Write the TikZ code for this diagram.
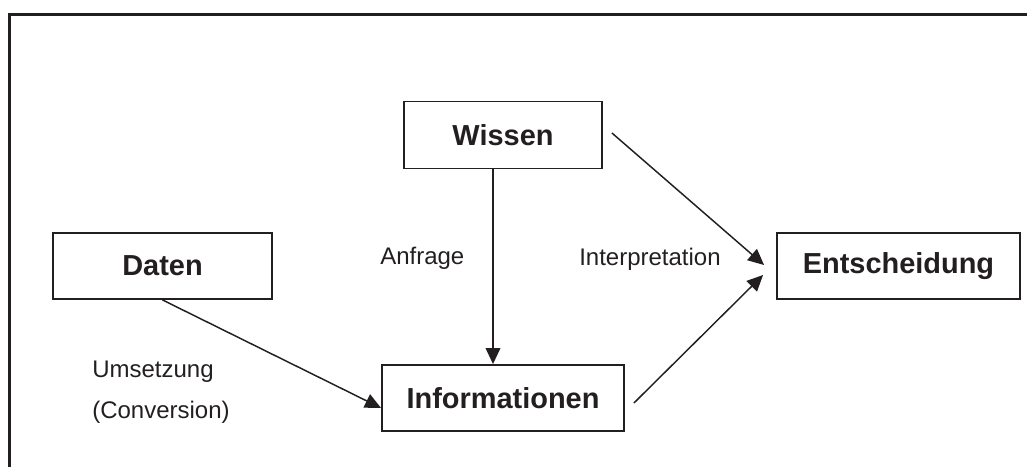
\documentclass[tikz,border=0pt]{standalone}
\usepackage{fontspec}
\setmainfont{Liberation Sans}
\usetikzlibrary{arrows.meta,calc}
\definecolor{ink}{HTML}{231F20}
\begin{document}
\begin{tikzpicture}[x=0.75pt,y=-0.75pt,
  box/.style={draw=ink,line width=1.4pt,fill=white,inner sep=0pt,
    font=\fontsize{21.7}{26}\selectfont\bfseries,text=ink},
  lbl/.style={anchor=base west,inner sep=0pt,font=\fontsize{18}{22}\selectfont,text=ink},
  arr/.style={draw=ink,line width=1.1pt,-{Triangle[length=12pt,width=11pt]}}]
\useasboundingbox (0,0) rectangle (1027,467);
% open frame: top and left edges only
\draw[ink,line width=2pt] (9.5,467) -- (9.5,14.3) -- (1027,14.3);
% boxes
\node[box,minimum width=198*0.75pt,minimum height=67*0.75pt] (W) at (503,135) {Wissen};
\node[box,minimum width=219*0.75pt,minimum height=66*0.75pt] (D) at (162.5,266) {Daten};
\node[box,minimum width=242*0.75pt,minimum height=66*0.75pt] (I) at (503,398) {Informationen};
\node[box,minimum width=243*0.75pt,minimum height=66*0.75pt] (E) at (898.5,266) {Entscheidung};
% connector ends that stand free of the boxes
\coordinate (wsE) at ($(W.east)+(9,-2)$);
\coordinate (etW) at ($(E.west)+(-12,-1)$);
\coordinate (isE) at ($(I.east)+(9,5)$);
\coordinate (ebW) at ($(E.west)+(-13,9)$);
% connectors
\draw[arr] ($(W.south)+(-10,0)$) -- ($(I.north)+(-10,0)$);
\draw[arr] (D.south) -- ($(I.west)+(0,10)$);
\draw[arr] (wsE) -- (etW);
\draw[arr] (isE) -- (ebW);
% labels
\node[lbl] (la) at (380,264) {Anfrage};
\node[lbl] (li) at (579,265) {Interpretation};
\node[lbl] (lu) at (92,377) {Umsetzung};
\node[lbl] (lc) at (92,418) {(Conversion)};
\end{tikzpicture}
\end{document}
